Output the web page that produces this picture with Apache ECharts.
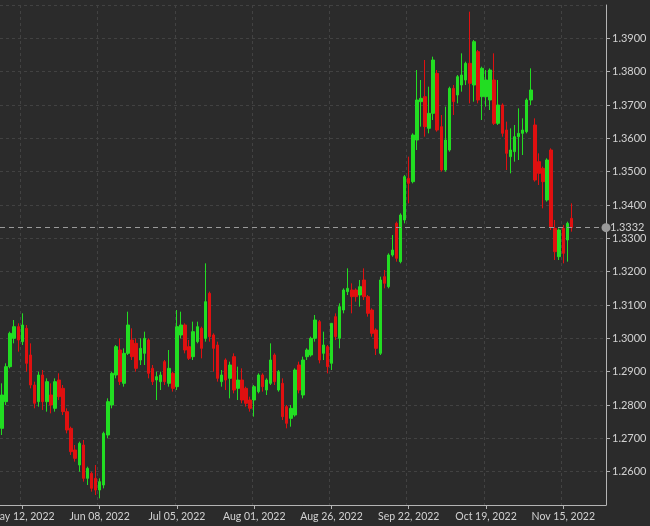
<!DOCTYPE html>
<html><head><meta charset="utf-8">
<script src="https://cdn.jsdelivr.net/npm/echarts@6/dist/echarts.min.js"></script>
<style>html,body{margin:0;padding:0;background:#2b2b2b;}#c{width:650px;height:526px;}</style>
</head><body><div id="c"></div>
<script>
const dates = [
"May 05, 2022","May 06, 2022","May 09, 2022","May 10, 2022","May 11, 2022","May 12, 2022","May 13, 2022","May 16, 2022","May 17, 2022","May 18, 2022","May 19, 2022","May 20, 2022","May 23, 2022","May 24, 2022","May 25, 2022","May 26, 2022","May 27, 2022","May 30, 2022","May 31, 2022",
"Jun 01, 2022","Jun 02, 2022","Jun 03, 2022","Jun 06, 2022","Jun 07, 2022","Jun 08, 2022","Jun 09, 2022","Jun 10, 2022","Jun 13, 2022","Jun 14, 2022","Jun 15, 2022","Jun 16, 2022","Jun 17, 2022","Jun 20, 2022","Jun 21, 2022","Jun 22, 2022","Jun 23, 2022","Jun 24, 2022","Jun 27, 2022","Jun 28, 2022","Jun 29, 2022","Jun 30, 2022",
"Jul 01, 2022","Jul 04, 2022","Jul 05, 2022","Jul 06, 2022","Jul 07, 2022","Jul 08, 2022","Jul 11, 2022","Jul 12, 2022","Jul 13, 2022","Jul 14, 2022","Jul 15, 2022","Jul 18, 2022","Jul 19, 2022","Jul 20, 2022","Jul 21, 2022","Jul 22, 2022","Jul 25, 2022","Jul 26, 2022","Jul 27, 2022","Jul 28, 2022","Jul 29, 2022",
"Aug 01, 2022","Aug 02, 2022","Aug 03, 2022","Aug 04, 2022","Aug 05, 2022","Aug 08, 2022","Aug 09, 2022","Aug 10, 2022","Aug 11, 2022","Aug 12, 2022","Aug 15, 2022","Aug 16, 2022","Aug 17, 2022","Aug 18, 2022","Aug 19, 2022","Aug 22, 2022","Aug 23, 2022","Aug 24, 2022","Aug 25, 2022","Aug 26, 2022","Aug 29, 2022","Aug 30, 2022","Aug 31, 2022",
"Sep 01, 2022","Sep 02, 2022","Sep 05, 2022","Sep 06, 2022","Sep 07, 2022","Sep 08, 2022","Sep 09, 2022","Sep 12, 2022","Sep 13, 2022","Sep 14, 2022","Sep 15, 2022","Sep 16, 2022","Sep 19, 2022","Sep 20, 2022","Sep 21, 2022","Sep 22, 2022","Sep 23, 2022","Sep 26, 2022","Sep 27, 2022","Sep 28, 2022","Sep 29, 2022","Sep 30, 2022",
"Oct 03, 2022","Oct 04, 2022","Oct 05, 2022","Oct 06, 2022","Oct 07, 2022","Oct 10, 2022","Oct 11, 2022","Oct 12, 2022","Oct 13, 2022","Oct 14, 2022","Oct 17, 2022","Oct 18, 2022","Oct 19, 2022","Oct 20, 2022","Oct 21, 2022","Oct 24, 2022","Oct 25, 2022","Oct 26, 2022","Oct 27, 2022","Oct 28, 2022","Oct 31, 2022",
"Nov 01, 2022","Nov 02, 2022","Nov 03, 2022","Nov 04, 2022","Nov 07, 2022","Nov 08, 2022","Nov 09, 2022","Nov 10, 2022","Nov 11, 2022","Nov 14, 2022","Nov 15, 2022","Nov 16, 2022","Nov 17, 2022"
];
const futureDates = ["Nov 18, 2022","Nov 21, 2022","Nov 22, 2022","Nov 23, 2022","Nov 24, 2022","Nov 25, 2022","Nov 28, 2022","Nov 29, 2022"];

const openV = [
1.2730,1.2810,1.2915,1.3000,1.3035,1.2990,1.3030,1.2950,1.2860,1.2810,1.2890,1.2810,1.2830,1.2790,1.2875,1.2850,1.2780,1.2730,1.2665,
1.2620,1.2680,1.2580,1.2595,1.2580,1.2545,1.2560,1.2710,1.2800,1.2890,1.2965,1.2865,1.2955,1.2995,1.2985,1.2935,1.2955,1.2995,1.2910,1.2875,1.2870,1.2930,
1.2865,1.2895,1.2855,1.3010,1.3040,1.2975,1.2945,1.2990,1.3030,1.3000,1.3135,1.3010,1.2980,1.2870,1.2935,1.2880,1.2945,1.2850,1.2875,1.2850,1.2815,
1.2815,1.2840,1.2890,1.2845,1.2865,1.2950,1.2845,1.2865,1.2795,1.2760,1.2770,1.2920,1.2830,1.2945,1.2950,1.3000,1.3050,1.2955,1.2975,1.2925,1.3065,1.3000,1.3085,
1.3140,1.3145,1.3145,1.3130,1.3175,1.3125,1.3085,1.3025,1.2955,1.3185,1.3155,1.3250,1.3345,1.3230,1.3355,1.3480,1.3470,1.3595,1.3710,1.3725,1.3630,1.3675,
1.3795,1.3635,1.3505,1.3565,1.3750,1.3730,1.3760,1.3775,1.3825,1.3760,1.3860,1.3725,1.3725,1.3715,1.3775,1.3645,1.3700,1.3625,1.3545,1.3560,1.3605,
1.3615,1.3620,1.3715,1.3640,1.3530,1.3510,1.3415,1.3565,1.3330,1.3245,1.3330,1.3295,1.3360
];
const closeV = [
1.2830,1.2915,1.3015,1.3035,1.2995,1.3040,1.2925,1.2860,1.2805,1.2890,1.2810,1.2870,1.2800,1.2870,1.2825,1.2780,1.2725,1.2660,1.2640,
1.2685,1.2580,1.2610,1.2550,1.2545,1.2570,1.2715,1.2810,1.2895,1.2975,1.2870,1.2955,1.3040,1.2945,1.2910,1.2970,1.3000,1.2895,1.2870,1.2885,1.2890,1.2870,
1.2910,1.2850,1.3035,1.3040,1.2965,1.2940,1.3020,1.3035,1.2970,1.3110,1.3005,1.2970,1.2880,1.2890,1.2875,1.2920,1.2845,1.2875,1.2815,1.2805,1.2790,
1.2855,1.2890,1.2855,1.2875,1.2935,1.2870,1.2900,1.2765,1.2745,1.2790,1.2905,1.2845,1.2935,1.2965,1.3000,1.3055,1.2935,1.2980,1.2915,1.3045,1.3005,1.3095,1.3145,
1.3150,1.3125,1.3125,1.3155,1.3125,1.3075,1.3015,1.2970,1.3175,1.3165,1.3250,1.3265,1.3240,1.3370,1.3485,1.3465,1.3610,1.3715,1.3720,1.3635,1.3675,1.3835,
1.3625,1.3505,1.3595,1.3750,1.3710,1.3785,1.3790,1.3825,1.3765,1.3890,1.3715,1.3810,1.3775,1.3805,1.3645,1.3700,1.3615,1.3555,1.3565,1.3605,1.3615,
1.3625,1.3715,1.3745,1.3475,1.3495,1.3470,1.3535,1.3335,1.3260,1.3325,1.3255,1.3345,1.3332
];
const lowV = [
1.2710,1.2800,1.2910,1.2985,1.2960,1.2980,1.2900,1.2850,1.2790,1.2795,1.2785,1.2780,1.2775,1.2780,1.2815,1.2770,1.2715,1.2650,1.2630,
1.2600,1.2570,1.2560,1.2540,1.2530,1.2520,1.2550,1.2700,1.2790,1.2880,1.2860,1.2855,1.2950,1.2935,1.2900,1.2920,1.2920,1.2880,1.2860,1.2815,1.2845,1.2860,
1.2855,1.2840,1.2845,1.3000,1.2955,1.2935,1.2935,1.2985,1.2940,1.2990,1.2990,1.2900,1.2870,1.2855,1.2845,1.2820,1.2835,1.2815,1.2805,1.2795,1.2780,
1.2765,1.2835,1.2840,1.2830,1.2860,1.2860,1.2840,1.2755,1.2730,1.2735,1.2765,1.2835,1.2820,1.2935,1.2945,1.2990,1.2925,1.2935,1.2895,1.2905,1.2995,1.2970,1.3075,
1.3130,1.3075,1.3110,1.3095,1.3115,1.3065,1.3005,1.2950,1.2950,1.3150,1.3150,1.3245,1.3230,1.3225,1.3345,1.3405,1.3465,1.3565,1.3635,1.3605,1.3615,1.3655,
1.3620,1.3500,1.3500,1.3560,1.3670,1.3705,1.3740,1.3760,1.3705,1.3710,1.3705,1.3655,1.3695,1.3685,1.3640,1.3640,1.3605,1.3505,1.3495,1.3530,1.3535,
1.3550,1.3615,1.3700,1.3470,1.3460,1.3390,1.3410,1.3325,1.3235,1.3235,1.3225,1.3230,1.3320
];
const highV = [
1.2865,1.2925,1.3020,1.3055,1.3045,1.3075,1.3040,1.2985,1.2870,1.2900,1.2905,1.2880,1.2865,1.2880,1.2895,1.2860,1.2790,1.2735,1.2680,
1.2690,1.2695,1.2615,1.2600,1.2620,1.2580,1.2720,1.2820,1.2900,1.2980,1.3000,1.2970,1.3080,1.3030,1.3000,1.3000,1.3020,1.3000,1.2920,1.2900,1.2900,1.2935,
1.2965,1.2900,1.3085,1.3080,1.3045,1.2995,1.3050,1.3050,1.3035,1.3225,1.3140,1.3015,1.2990,1.2905,1.2940,1.2930,1.2955,1.2915,1.2910,1.2855,1.2825,
1.2860,1.2895,1.2895,1.2880,1.2985,1.2955,1.2905,1.2880,1.2800,1.2800,1.2910,1.2930,1.2945,1.2970,1.3005,1.3070,1.3055,1.3020,1.2980,1.3045,1.3075,1.3105,1.3150,
1.3210,1.3165,1.3150,1.3175,1.3210,1.3130,1.3090,1.3030,1.3185,1.3205,1.3255,1.3310,1.3350,1.3375,1.3490,1.3545,1.3615,1.3805,1.3775,1.3835,1.3755,1.3845,
1.3805,1.3670,1.3695,1.3755,1.3760,1.3790,1.3855,1.3830,1.3980,1.3895,1.3865,1.3815,1.3805,1.3810,1.3855,1.3775,1.3705,1.3650,1.3630,1.3640,1.3690,
1.3660,1.3720,1.3810,1.3660,1.3555,1.3515,1.3540,1.3570,1.3355,1.3330,1.3340,1.3350,1.3405
];
const tickLabels = ["May 12, 2022","Jun 08, 2022","Jul 05, 2022","Aug 01, 2022","Aug 26, 2022","Sep 22, 2022","Oct 19, 2022","Nov 15, 2022"];
const lastPrice = 1.3332;

const categories = dates.concat(futureDates);
const candles = dates.map((d, i) => [openV[i], closeV[i], lowV[i], highV[i]]);
const showTick = (idx, val) => tickLabels.indexOf(val) >= 0;

const chart = echarts.init(document.getElementById('c'), null, {renderer: 'canvas'});
const axisColor = '#b4b4b4';
const textColor = '#d2d2d2';
const gridColor = '#424242';
chart.setOption({
  backgroundColor: '#2b2b2b',
  animation: false,
  grid: {left: 0, right: 44, top: 5, bottom: 21, containLabel: false, outerBoundsMode: 'none'},
  xAxis: {
    type: 'category', data: categories, boundaryGap: true,
    axisLine: {show: true, lineStyle: {color: axisColor, width: 1}},
    axisTick: {show: true, alignWithLabel: true, interval: showTick, length: 4, lineStyle: {color: axisColor}},
    axisLabel: {interval: showTick, color: textColor, fontSize: 10.5, fontFamily: 'Lato', margin: 6, hideOverlap: false},
    splitLine: {show: true, interval: showTick, lineStyle: {color: gridColor, type: [3, 3], width: 1}}
  },
  yAxis: {
    type: 'value', position: 'right', min: 1.25, max: 1.40, interval: 0.01, scale: true,
    axisLine: {show: true, lineStyle: {color: axisColor, width: 1}},
    axisTick: {show: true, length: 4, lineStyle: {color: axisColor}},
    axisLabel: {color: textColor, fontSize: 11, fontFamily: 'Lato', margin: 6, showMinLabel: false, showMaxLabel: false,
      formatter: v => v.toFixed(4)},
    splitLine: {show: true, lineStyle: {color: gridColor, type: [3, 3], width: 1}}
  },
  series: [{
    type: 'candlestick', data: candles, barWidth: 3,
    itemStyle: {color: '#22dd22', color0: '#e01010', borderColor: '#22dd22', borderColor0: '#e01010', borderWidth: 1},
    markLine: {
      silent: true, symbol: ['none', 'circle'], symbolSize: 9, precision: 4,
      lineStyle: {color: '#9a9a9a', type: [5, 4], width: 1},
      itemStyle: {color: '#8f8f8f'},
      label: {show: true, position: 'end', color: textColor, fontSize: 11, fontFamily: 'Lato', distance: 4,
        formatter: p => p.value.toFixed(4)},
      data: [{yAxis: lastPrice}]
    }
  }]
});
</script></body></html>
